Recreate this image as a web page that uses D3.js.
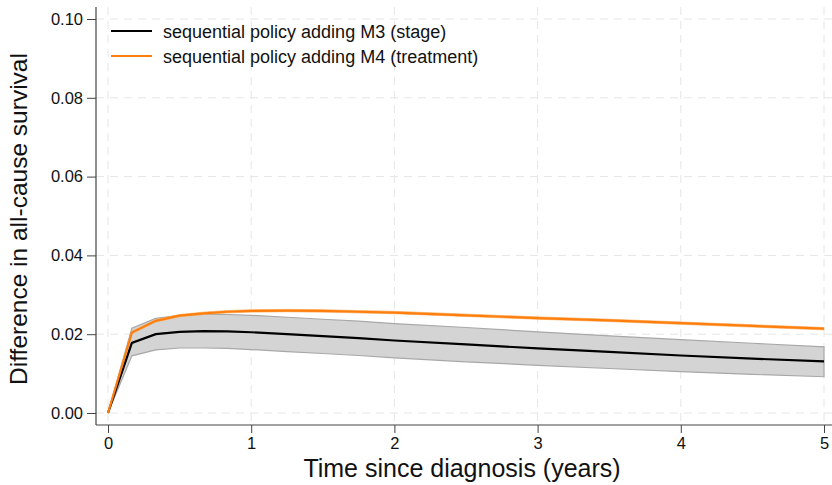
<!DOCTYPE html>
<html>
<head>
<meta charset="utf-8">
<script src="https://cdn.jsdelivr.net/npm/d3@7"></script>
<style>
  body { margin: 0; background: #fff; }
  svg { font-family: "Liberation Sans", Arial, sans-serif; }
</style>
</head>
<body>
<div id="viz"></div>
<script>
// time since diagnosis (years)
const times = [0, 0.1667, 0.3333, 0.5, 0.6667, 0.8333, 1, 1.25, 1.5, 1.75, 2, 2.5, 3, 3.5, 4, 4.5, 5];
// M3 (stage): estimate and confidence band
const m3 = [0, 0.0178, 0.0200, 0.0206, 0.0208, 0.0207, 0.0205, 0.0200, 0.0195, 0.0190, 0.0184, 0.0174, 0.0164, 0.0155, 0.0146, 0.0138, 0.0131];
const m3Lo = [0, 0.0145, 0.0160, 0.0165, 0.0165, 0.0164, 0.0161, 0.0156, 0.0151, 0.0146, 0.0140, 0.0130, 0.0121, 0.0113, 0.0105, 0.0098, 0.0092];
const m3Hi = [0, 0.0215, 0.0240, 0.0248, 0.0250, 0.0250, 0.0248, 0.0243, 0.0238, 0.0233, 0.0227, 0.0217, 0.0206, 0.0196, 0.0186, 0.0177, 0.0168];
// M4 (treatment)
const m4 = [0, 0.0204, 0.0234, 0.0247, 0.0253, 0.0257, 0.0259, 0.0260, 0.0259, 0.0257, 0.0255, 0.0248, 0.0241, 0.0235, 0.0228, 0.0221, 0.0214];
const m4Lo = [0, 0.0201, 0.0231, 0.0244, 0.0250, 0.0254, 0.0256, 0.0257, 0.0256, 0.0254, 0.0252, 0.0245, 0.0238, 0.0232, 0.0225, 0.0218, 0.0211];
const m4Hi = [0, 0.0207, 0.0237, 0.0250, 0.0256, 0.0260, 0.0262, 0.0263, 0.0262, 0.0260, 0.0258, 0.0251, 0.0244, 0.0238, 0.0231, 0.0224, 0.0217];

const xTicks = [0, 1, 2, 3, 4, 5];
const yTicks = [0, 0.02, 0.04, 0.06, 0.08, 0.10];
const legendLabels = ['sequential policy adding M3 (stage)', 'sequential policy adding M4 (treatment)'];

const width = 832, height = 485;
const plotL = 96, plotR = 832, plotT = 7, plotB = 425;

const x = d3.scaleLinear().domain([0, 5]).range([108, 824]);
const y = d3.scaleLinear().domain([0, 0.10]).range([413, 19]);

const svg = d3.select('#viz').append('svg')
    .attr('width', width)
    .attr('height', height);

// grid
svg.append('g').selectAll('line').data(xTicks).enter().append('line')
    .attr('x1', d => x(d)).attr('x2', d => x(d))
    .attr('y1', plotT).attr('y2', plotB)
    .attr('stroke', '#e6e6e6').attr('stroke-dasharray', '8,6');
svg.append('g').selectAll('line').data(yTicks).enter().append('line')
    .attr('x1', plotL).attr('x2', plotR)
    .attr('y1', d => y(d)).attr('y2', d => y(d))
    .attr('stroke', '#e6e6e6').attr('stroke-dasharray', '8,6');

const idx = d3.range(times.length);

const area = (lo, hi) => d3.area()
    .x(i => x(times[i]))
    .y0(i => y(lo[i]))
    .y1(i => y(hi[i]));
const line = vals => d3.line()
    .x(i => x(times[i]))
    .y(i => y(vals[i]));

// M3 band
svg.append('path').datum(idx)
    .attr('d', area(m3Lo, m3Hi))
    .attr('fill', '#d4d4d4')
    .attr('stroke', '#a8a8a8')
    .attr('stroke-width', 1.2);

// M4 band
svg.append('path').datum(idx)
    .attr('d', area(m4Lo, m4Hi))
    .attr('fill', '#fbb56e')
    .attr('stroke', '#fbb56e')
    .attr('stroke-width', 1)
    .attr('opacity', 0.8);

svg.append('path').datum(idx)
    .attr('d', line(m3))
    .attr('fill', 'none')
    .attr('stroke', '#000')
    .attr('stroke-width', 2.2);

svg.append('path').datum(idx)
    .attr('d', line(m4))
    .attr('fill', 'none')
    .attr('stroke', '#ff7f0e')
    .attr('stroke-width', 2.2);

// axes
const xAxis = svg.append('g')
    .attr('transform', `translate(0,${plotB})`)
    .call(d3.axisBottom(x).tickValues(xTicks).tickFormat(d3.format('d')).tickSize(8).tickPadding(4));
const yAxis = svg.append('g')
    .attr('transform', `translate(${plotL},0)`)
    .call(d3.axisLeft(y).tickValues(yTicks).tickFormat(d3.format('.2f')).tickSize(9).tickPadding(4));

[xAxis, yAxis].forEach(g => {
    g.select('.domain').remove();
    g.selectAll('.tick line').attr('stroke', '#444');
    g.selectAll('.tick text').attr('font-size', 16.5).attr('fill', '#111')
        .attr('font-family', '"Liberation Sans", Arial, sans-serif');
});

svg.append('line')
    .attr('x1', plotL).attr('x2', plotR)
    .attr('y1', plotB).attr('y2', plotB)
    .attr('stroke', '#444').attr('stroke-width', 1.2);
svg.append('line')
    .attr('x1', plotL).attr('x2', plotL)
    .attr('y1', plotT).attr('y2', plotB)
    .attr('stroke', '#444').attr('stroke-width', 1.2);

// axis titles
svg.append('text')
    .attr('x', 462).attr('y', 477)
    .attr('text-anchor', 'middle')
    .attr('font-size', 25)
    .attr('fill', '#111')
    .text('Time since diagnosis (years)');
svg.append('text')
    .attr('transform', 'translate(27,219) rotate(-90)')
    .attr('text-anchor', 'middle')
    .attr('font-size', 24.5)
    .attr('fill', '#111')
    .text('Difference in all-cause survival');

// legend
const legendColors = ['#000', '#ff7f0e'];
const legend = svg.append('g').selectAll('g').data(legendLabels).enter().append('g')
    .attr('transform', (d, i) => `translate(111,${31 + i * 25})`);
legend.append('line')
    .attr('x1', 0).attr('x2', 41)
    .attr('stroke', (d, i) => legendColors[i])
    .attr('stroke-width', 2);
legend.append('text')
    .attr('x', 52).attr('y', 6.5)
    .attr('font-size', 18)
    .attr('fill', '#111')
    .text(d => d);
</script>
</body>
</html>
